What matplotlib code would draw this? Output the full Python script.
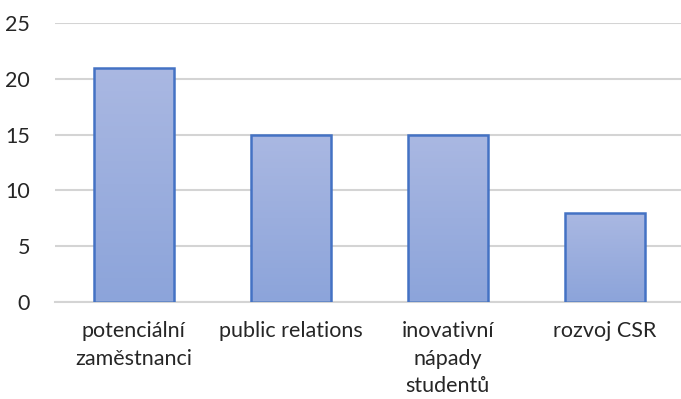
import numpy as np
import matplotlib.pyplot as plt
from matplotlib.colors import LinearSegmentedColormap

# Data
categories = ["potenciální\nzaměstnanci", "public relations", "inovativní\nnápady\nstudentů", "rozvoj CSR"]
values = [21, 15, 15, 8]
yticks = [0, 5, 10, 15, 20, 25]

plt.rcParams['font.family'] = ['Lato', 'DejaVu Sans']

fig = plt.figure(figsize=(6.81, 3.99), dpi=100)
ax = fig.add_axes([0.081, 0.243, 0.922, 0.6995])

x = np.arange(len(categories))
bars = ax.bar(x, values, width=0.51, facecolor='none', edgecolor='#4472c4', linewidth=1.8, zorder=3)

# vertical gradient fill inside each bar
cmap = LinearSegmentedColormap.from_list('grad', ['#aab8e2', '#8ca4da'])
grad = np.linspace(0, 1, 256).reshape(-1, 1)
for b in bars:
    x0, w, h = b.get_x(), b.get_width(), b.get_height()
    im = ax.imshow(grad, cmap=cmap, aspect='auto', extent=[x0, x0 + w, 0, h],
                   origin='upper', zorder=2)
    im.set_clip_path(b)

ax.set_xlim(-0.5, len(categories) - 0.5)
ax.set_ylim(0, 25)
ax.set_yticks(yticks)
ax.set_xticks(x)
ax.set_xticklabels(categories, fontsize=15.5, color='#262626', linespacing=1.45)
ax.tick_params(axis='y', labelsize=15.5, labelcolor='#262626', length=0, pad=18)
ax.tick_params(axis='x', length=0, pad=14)
ax.yaxis.grid(True, color='#d4d4d4', linewidth=1.5, zorder=0)
ax.set_axisbelow(True)
for s in ['top', 'right', 'left']:
    ax.spines[s].set_visible(False)
ax.spines['bottom'].set_color('#d4d4d4')
ax.spines['bottom'].set_linewidth(1.5)

fig.savefig('out.png', dpi=100)
